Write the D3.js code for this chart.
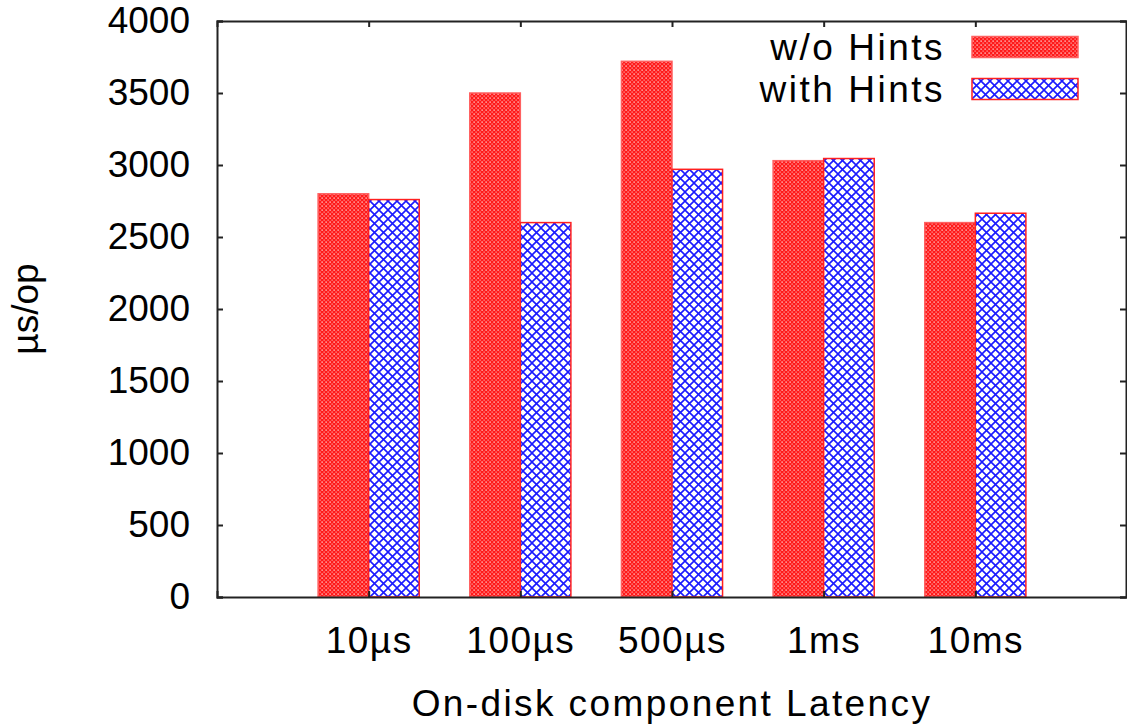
<html>
<head>
<script src="https://d3js.org/d3.v7.min.js"></script>
<style>
  body { margin: 0; background: #fff; }
  text { font-family: "Liberation Sans", Arial, sans-serif; }
</style>
</head>
<body>
<svg width="1127" height="725"></svg>
<script>
var categories = ["10µs", "100µs", "500µs", "1ms", "10ms"];
var seriesNames = ["w/o Hints", "with Hints"];
var withoutHints = [2800, 3500, 3720, 3030, 2600];
var withHints = [2760, 2600, 2970, 3045, 2665];
var yTicks = [0, 500, 1000, 1500, 2000, 2500, 3000, 3500, 4000];

var svg = d3.select("svg"),
    margin = {top: 21, left: 217, bottom: 128, right: 0},
    width = +svg.attr("width") - margin.left - margin.right,
    height = +svg.attr("height") - margin.top - margin.bottom,
    g = svg.append("g").attr("transform", "translate(" + margin.left + "," + margin.top + ")");

var fontSize = 37;

// fill patterns
var defs = svg.append("defs");
var pr = defs.append("pattern").attr("id", "redfill")
    .attr("patternUnits", "userSpaceOnUse").attr("width", 4).attr("height", 4);
pr.append("rect").attr("width", 4).attr("height", 4).attr("fill", "#ff1a1a");
pr.append("rect").attr("x", 0.5).attr("y", 0.5).attr("width", 1.2).attr("height", 1.2).attr("fill", "#fff");
pr.append("rect").attr("x", 2.5).attr("y", 2.5).attr("width", 1.2).attr("height", 1.2).attr("fill", "#ffb0b0");

var pb = defs.append("pattern").attr("id", "bluefill")
    .attr("patternUnits", "userSpaceOnUse").attr("width", 9).attr("height", 9);
pb.append("rect").attr("width", 9).attr("height", 9).attr("fill", "#fff");
pb.append("path").attr("d", "M0,0L9,9M0,9L9,0").attr("stroke", "#1a1aff").attr("stroke-width", 1.6);

var x = d3.scaleLinear().domain([0, 6]).range([0, width]);
var y = d3.scaleLinear().domain([0, 4000]).range([height, 0]);
var barW = 1 / 3;

var data = categories.map(function(c, i) {
  return {cat: c, pos: i + 1, vals: [withoutHints[i], withHints[i]]};
});

var fills = ["url(#redfill)", "url(#bluefill)"];
var strokes = ["#ff6060", "#ff2020"];

data.forEach(function(d) {
  d.vals.forEach(function(v, k) {
    var x0 = d.pos - barW + k * barW;
    g.append("rect")
      .attr("x", x(x0))
      .attr("y", y(v))
      .attr("width", x(x0 + barW) - x(x0))
      .attr("height", y(0) - y(v))
      .attr("fill", fills[k])
      .attr("stroke", strokes[k])
      .attr("stroke-width", 1.5);
  });
});

// axes
var axisColor = "#222";
function styleAxis(a) {
  a.select(".domain").attr("stroke", axisColor).attr("stroke-width", 2);
  a.selectAll("line").attr("stroke", axisColor).attr("stroke-width", 2);
  a.selectAll("text").attr("font-size", fontSize).attr("fill", "#000")
    .attr("font-family", "Liberation Sans, Arial, sans-serif");
}

g.append("g")
  .attr("transform", "translate(0," + height + ")")
  .call(d3.axisBottom(x).tickValues(data.map(function(d) { return d.pos; }))
    .tickFormat(function(p) { return categories[p - 1]; })
    .tickSize(-6).tickPadding(30))
  .call(styleAxis)
  .selectAll("text").attr("letter-spacing", 1.5);

g.append("g")
  .call(d3.axisLeft(y).tickValues(yTicks).tickFormat(d3.format("d")).tickSize(-6).tickPadding(27))
  .call(styleAxis);

// top and right borders with mirrored ticks
g.append("g")
  .call(d3.axisTop(x).tickValues(data.map(function(d) { return d.pos; })).tickSize(-6).tickFormat(""))
  .call(styleAxis);
g.append("g")
  .attr("transform", "translate(" + (width - 1) + ",0)")
  .call(d3.axisRight(y).tickValues(yTicks).tickSize(-6).tickFormat(""))
  .call(styleAxis);

// axis titles
svg.append("text")
  .attr("x", margin.left + x(3))
  .attr("y", 716)
  .attr("text-anchor", "middle")
  .attr("font-size", fontSize)
  .attr("letter-spacing", 2.4)
  .text("On-disk component Latency");

svg.append("text")
  .attr("transform", "translate(38," + (margin.top + height / 2) + ") rotate(-90)")
  .attr("text-anchor", "middle")
  .attr("font-size", fontSize)
  .text("µs/op");

// legend
var legend = svg.append("g");
seriesNames.forEach(function(name, k) {
  var ly = 47 + k * 42;
  legend.append("text")
    .attr("x", 945)
    .attr("y", ly)
    .attr("dy", "0.35em")
    .attr("text-anchor", "end")
    .attr("font-size", fontSize)
    .attr("letter-spacing", 2.5)
    .text(name);
  legend.append("rect")
    .attr("x", 972).attr("y", ly - 10.5)
    .attr("width", 106).attr("height", 21)
    .attr("fill", fills[k])
    .attr("stroke", strokes[k])
    .attr("stroke-width", 1.5);
});
</script>
</body>
</html>
